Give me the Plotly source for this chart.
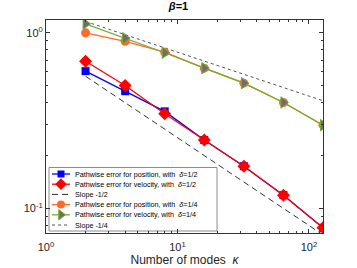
import plotly.graph_objects as go
import numpy as np

kappa = [2, 4, 8, 16, 32, 64, 128]
pos_half = [0.605, 0.465, 0.357, 0.245, 0.174, 0.119, 0.0776]
vel_half = [0.689, 0.501, 0.346, 0.245, 0.174, 0.119, 0.0776]
pos_quarter = [1.0, 0.895, 0.776, 0.629, 0.517, 0.401, 0.298]
vel_quarter = [1.125, 0.932, 0.770, 0.629, 0.517, 0.401, 0.298]
slope_half = [0.8 * k ** -0.5 for k in kappa]
slope_quarter = [1.38 * k ** -0.25 for k in kappa]

names = [
    "Pathwise error for position, with  <i>δ</i>=1/2",
    "Pathwise error for velocity, with  <i>δ</i>=1/2",
    "Slope -1/2",
    "Pathwise error for position, with  <i>δ</i>=1/4",
    "Pathwise error for velocity, with  <i>δ</i>=1/4",
    "Slope -1/4",
]

styles = [
    dict(mode="lines+markers", line=dict(color="#0000FF", width=1.3),
         marker=dict(symbol="square", size=8, color="#0000FF")),
    dict(mode="lines+markers", line=dict(color="#FF0000", width=1.3),
         marker=dict(symbol="diamond", size=10, color="#FF0000")),
    dict(mode="lines", line=dict(color="#333333", width=1, dash="6px,4px")),
    dict(mode="lines+markers", line=dict(color="#FF6A2A", width=1.3),
         marker=dict(symbol="circle", size=9, color="#FF6A2A")),
    dict(mode="lines+markers", line=dict(color="#77AC30", width=1.3),
         marker=dict(symbol="triangle-right", size=10, color="#6E6E6E",
                     line=dict(color="#77AC30", width=1))),
    dict(mode="lines", line=dict(color="#555555", width=1, dash="dot")),
]
series = [pos_half, vel_half, slope_half, pos_quarter, vel_quarter, slope_quarter]
draw_order = [5, 2, 3, 4, 0, 1]

fig = go.Figure()
for i in draw_order:
    fig.add_trace(go.Scatter(x=kappa, y=series[i], name=names[i], showlegend=False,
                             hoverinfo="skip", **styles[i]))

# compact legend drawn in an overlay pixel-coordinate frame
leg_x0, leg_x1, leg_y0, leg_y1 = 49, 217, 167.5, 231
row_y = [174, 184.2, 194.4, 204.6, 214.8, 225]
fig.add_shape(type="rect", xref="x2", yref="y2", x0=leg_x0, x1=leg_x1, y0=leg_y0, y1=leg_y1,
              line=dict(color="#8c8c8c", width=1), fillcolor="white", layer="below")
for i in range(6):
    st = styles[i]
    fig.add_trace(go.Scatter(x=[52, 70], y=[row_y[i], row_y[i]], xaxis="x2", yaxis="y2",
                             mode="lines", line=st["line"], showlegend=False, hoverinfo="skip"))
    if "marker" in st:
        m = dict(st["marker"])
        m["size"] = m["size"] - 1
        fig.add_trace(go.Scatter(x=[61], y=[row_y[i]], xaxis="x2", yaxis="y2",
                                 mode="markers", marker=m, showlegend=False, hoverinfo="skip"))
    fig.add_annotation(x=72.5, y=row_y[i], xref="x2", yref="y2", text=names[i],
                       showarrow=False, xanchor="left", yanchor="middle",
                       font=dict(size=7.2, color="black"))

minor_x = [v * 10 ** d for d in range(0, 3) for v in range(2, 10) if v * 10 ** d <= 128]
minor_y = [v * 10 ** d for d in (-2, -1) for v in range(2, 10) if v * 10 ** d >= 0.07]

fig.update_layout(
    width=357, height=268,
    margin=dict(l=46, r=34, t=20, b=35),
    paper_bgcolor="white", plot_bgcolor="white",
    font=dict(family="Liberation Sans, Arial, sans-serif", color="#262626"),
    title=dict(text="<b><i>β</i>=1</b>", x=0.5, xanchor="center", y=0.99, yanchor="top",
               font=dict(size=11, color="black")),
    showlegend=False,
    xaxis2=dict(overlaying="x", range=[46, 323], visible=False, anchor="y2", fixedrange=True),
    yaxis2=dict(overlaying="y", range=[233, 20], visible=False, anchor="x2", fixedrange=True),
    xaxis=dict(type="log", range=[0, np.log10(128)], automargin=False,
               tickvals=[1, 10, 100], ticktext=["10<sup>0</sup>", "10<sup>1</sup>", "10<sup>2</sup>"],
               ticks="inside", ticklen=4, tickcolor="#333", showline=True, linecolor="#333",
               linewidth=1, mirror="ticks", showgrid=False, zeroline=False,
               tickfont=dict(size=11), ticklabelstandoff=4,
               minor=dict(tickvals=minor_x, ticks="inside", ticklen=2, tickcolor="#333"),
               title=dict(text="Number of modes  <i>κ</i>", font=dict(size=12), standoff=3)),
    yaxis=dict(type="log", range=[-1.14, 0.073], automargin=False,
               tickvals=[0.1, 1], ticktext=["10<sup>-1</sup>", "10<sup>0</sup>"],
               ticks="inside", ticklen=4, tickcolor="#333", showline=True, linecolor="#333",
               linewidth=1, mirror="ticks", showgrid=False, zeroline=False,
               tickfont=dict(size=11),
               minor=dict(tickvals=minor_y, ticks="inside", ticklen=2, tickcolor="#333")),
)

fig.write_html("out.html", config={"displayModeBar": False},
               post_script="document.body.style.margin='0';")
